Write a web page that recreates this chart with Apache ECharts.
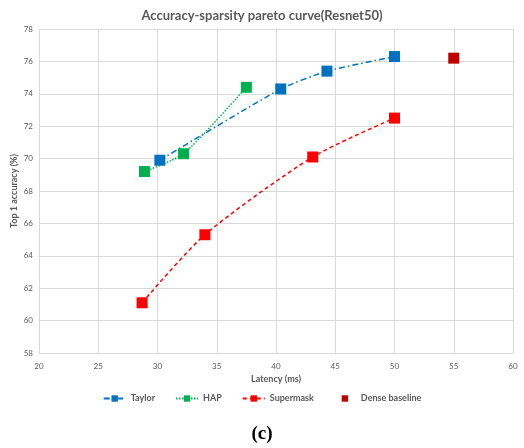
<!DOCTYPE html>
<html>
<head>
<meta charset="utf-8">
<script src="https://cdn.jsdelivr.net/npm/echarts@6/dist/echarts.min.js"></script>
<style>
  html, body { margin: 0; padding: 0; background: #fff; }
  #chart { width: 524px; height: 448px; }
</style>
</head>
<body>
<div id="chart"></div>
<script>
// latency (ms), top-1 accuracy (%)
const taylorLatency = [30.2, 40.4, 44.3, 50.0];
const taylorAcc = [69.9, 74.3, 75.4, 76.3];

const hapLatency = [28.9, 32.2, 37.5];
const hapAcc = [69.2, 70.3, 74.4];

const supermaskLatency = [28.7, 34.0, 43.1, 50.0];
const supermaskAcc = [61.1, 65.3, 70.1, 72.5];

const denseLatency = [55.0];
const denseAcc = [76.2];

const font = "Lato";
const grey = "#595959";

function pairs(xs, ys) {
    return xs.map((x, i) => [x, ys[i]]);
}

const chart = echarts.init(document.getElementById("chart"));

chart.setOption({
    animation: false,
    title: [
        {
            text: "Accuracy-sparsity pareto curve(Resnet50)",
            left: "center",
            top: 4,
            textStyle: { fontFamily: font, fontSize: 13, fontWeight: "bold", color: grey }
        },
        {
            text: "(c)",
            left: "center",
            top: 420,
            textStyle: { fontFamily: "Liberation Serif", fontSize: 19, fontWeight: "bold", color: "#000" }
        }
    ],
    grid: { left: 39, right: 11, top: 29, bottom: 95, outerBoundsMode: "none" },
    xAxis: {
        type: "value",
        min: 20, max: 60, interval: 5,
        name: "Latency (ms)",
        nameLocation: "middle",
        nameGap: 20,
        nameTextStyle: { fontFamily: font, fontSize: 9, fontWeight: "bold", color: grey },
        axisLine: { show: true, lineStyle: { color: "#d9d9d9" } },
        axisTick: { show: false },
        axisLabel: { fontFamily: font, fontSize: 8, color: grey, margin: 9 },
        splitLine: { show: true, lineStyle: { color: "#d9d9d9" } }
    },
    yAxis: {
        type: "value",
        min: 58, max: 78, interval: 2,
        name: "Top 1 accuracy (%)",
        nameLocation: "middle",
        nameGap: 20,
        nameMoveOverlap: false,
        nameTextStyle: { fontFamily: font, fontSize: 9, fontWeight: "bold", color: grey },
        axisLine: { show: false },
        axisTick: { show: false },
        axisLabel: { fontFamily: font, fontSize: 8, color: grey, margin: 6 },
        splitLine: { show: true, lineStyle: { color: "#d9d9d9" } }
    },
    legend: {
        bottom: 40,
        left: "center",
        itemWidth: 22,
        itemHeight: 8,
        itemGap: 20,
        textStyle: { fontFamily: font, fontSize: 9, fontWeight: "bold", color: grey },
        data: ["Taylor", "HAP", "Supermask", "Dense baseline"]
    },
    series: [
        {
            name: "Taylor",
            type: "line",
            smooth: 0.18,
            data: pairs(taylorLatency, taylorAcc),
            symbol: "rect",
            symbolSize: 11,
            itemStyle: { color: "#0070C0" },
            lineStyle: { color: "#0070C0", width: 1.5, type: [6, 3, 1.5, 3] }
        },
        {
            name: "HAP",
            type: "line",
            smooth: 0.2,
            data: pairs(hapLatency, hapAcc),
            symbol: "rect",
            symbolSize: 11,
            itemStyle: { color: "#00B050" },
            lineStyle: { color: "#00B050", width: 1.5, type: [1.5, 1.5] }
        },
        {
            name: "Supermask",
            type: "line",
            smooth: 0.25,
            data: pairs(supermaskLatency, supermaskAcc),
            symbol: "rect",
            symbolSize: 11,
            itemStyle: { color: "#FF0000" },
            lineStyle: { color: "#FF0000", width: 1.5, type: [4, 3] }
        },
        {
            name: "Dense baseline",
            type: "line",
            data: pairs(denseLatency, denseAcc),
            symbol: "rect",
            symbolSize: 11,
            itemStyle: { color: "#C00000", opacity: 1 },
            lineStyle: { width: 0, opacity: 0 }
        }
    ]
});
</script>
</body>
</html>
